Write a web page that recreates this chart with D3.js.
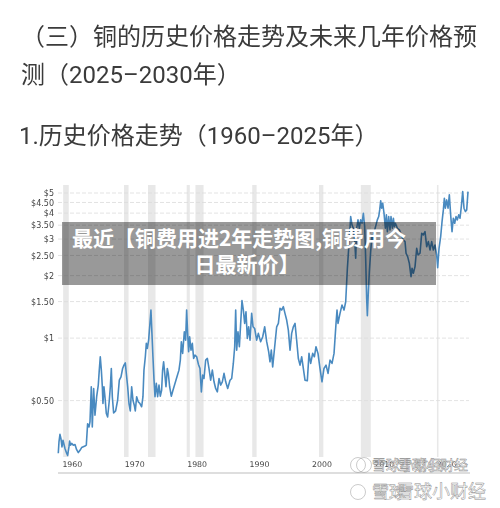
<!DOCTYPE html>
<html>
<head>
	<meta charset="utf-8">
	<title>铜的历史价格走势</title>
	<script src="https://d3js.org/d3.v7.min.js"></script>
	<style>
		body { margin: 0; background: #fff; }
		svg { display: block; }
	</style>
</head>
<body>
	<script type="text/javascript">
	var titleLines = ["（三）铜的历史价格走势及未来几年价格预", "测（2025–2030年）"];
	var subTitle = "1.历史价格走势（1960–2025年）";
	var overlayLines = ["最近【铜费用进2年走势图,铜费用今", "日最新价】"];

	var xTicks = [1960, 1970, 1980, 1990, 2000, 2010, 2020];
	var yTicks = [0.5, 1, 1.5, 2, 2.5, 3, 3.5, 4, 4.5, 5];
	var recessionStart = [1960.2, 1969.95, 1973.8, 1980.0, 1981.4, 1990.5, 2001.2, 2007.9, 2020.1];
	var recessionEnd = [1961.1, 1970.68, 1975.0, 1980.5, 1982.7, 1991.2, 2001.9, 2009.5, 2020.35];

	var years = [
		1959.42,1959.53,1959.69,1959.85,1960.01,1960.17,1960.33,1960.49,1960.76,1960.92,
		1961.13,1961.24,1961.40,1961.56,1961.83,1962.10,1962.36,1962.63,1962.90,1963.16,
		1963.70,1963.91,1964.12,1964.34,1964.50,1964.71,1964.87,1965.09,1965.30,1965.57,
		1965.83,1965.99,1966.15,1966.32,1966.48,1966.58,1966.74,1966.90,1967.12,1967.33,
		1967.60,1967.76,1967.92,1968.08,1968.29,1968.61,1968.93,1969.20,1969.47,1969.73,
		1969.95,1970.16,1970.32,1970.54,1970.75,1970.96,1971.18,1971.39,1971.60,1971.76,
		1971.98,1972.24,1972.51,1972.78,1972.99,1973.15,1973.37,1973.53,1973.69,1973.90,
		1974.11,1974.27,1974.43,1974.59,1974.75,1974.92,1975.13,1975.34,1975.56,1975.77,
		1975.98,1976.14,1976.30,1976.46,1976.68,1976.89,1977.05,1977.27,1977.53,1977.80,
		1978.12,1978.44,1978.76,1978.98,1979.14,1979.35,1979.62,1979.83,1979.99,1980.15,
		1980.31,1980.47,1980.69,1980.90,1981.11,1981.33,1981.60,1981.87,1982.13,1982.35,
		1982.56,1982.77,1983.04,1983.31,1983.57,1983.84,1984.11,1984.38,1984.64,1984.91,
		1985.18,1985.44,1985.71,1985.98,1986.25,1986.57,1986.94,1987.21,1987.47,1987.69,
		1987.85,1988.01,1988.22,1988.44,1988.65,1988.86,1989.08,1989.29,1989.50,1989.72,
		1989.93,1990.15,1990.41,1990.63,1990.89,1991.21,1991.48,1991.85,1992.18,1992.50,
		1992.82,1993.14,1993.35,1993.56,1993.78,1994.10,1994.42,1994.69,1994.95,1995.22,
		1995.49,1995.75,1996.02,1996.29,1996.56,1996.82,1997.09,1997.36,1997.62,1997.89,
		1998.16,1998.43,1998.69,1998.96,1999.33,1999.60,1999.87,2000.19,2000.46,2000.72,
		2001.04,2001.36,2001.68,2002.00,2002.33,2002.65,2002.97,2003.29,2003.61,2003.93,
		2004.09,2004.25,2004.57,2004.89,2005.21,2005.48,2005.75,2005.96,2006.17,2006.28,
		2006.49,2006.71,2006.92,2007.08,2007.24,2007.45,2007.67,2007.88,2008.10,2008.31,
		2008.52,2008.68,2008.84,2008.95,2009.11,2009.27,2009.48,2009.70,2009.91,2010.13,
		2010.34,2010.55,2010.77,2010.93,2011.09,2011.25,2011.41,2011.62,2011.84,2012.00,
		2012.16,2012.37,2012.58,2012.74,2012.96,2013.12,2013.28,2013.44,2013.76,2014.08,
		2014.40,2014.72,2014.99,2015.15,2015.41,2015.68,2015.95,2016.11,2016.32,2016.59,
		2016.86,2017.07,2017.39,2017.66,2017.92,2018.19,2018.46,2018.73,2018.99,2019.26,
		2019.53,2019.79,2020.06,2020.22,2020.44,2020.70,2020.92,2021.13,2021.29,2021.45,
		2021.66,2021.88,2022.09,2022.30,2022.52,2022.73,2022.95,2023.16,2023.37,2023.59,
		2023.80,2024.01,2024.23,2024.44,2024.66,2024.87,2025.08
	];

	var prices = [
		.279,.316,.344,.328,.299,.322,.308,.294,.279,.272,
		.299,.319,.305,.311,.305,.307,.290,.281,.288,.297,
		.302,.305,.387,.373,.395,.583,.373,.572,.425,.522,
		.594,.701,.813,.701,.583,.484,.583,.522,.433,.417,
		.502,.583,.714,.522,.436,.446,.502,.627,.651,.714,
		.741,.760,.676,.583,.484,.446,.583,.502,.475,.446,
		.522,.493,.484,.467,.522,.701,.813,.943,.892,.978,
		1.177,1.365,1.054,.813,.639,.522,.605,.522,.594,.525,
		.561,.701,.769,.688,.583,.714,.676,.583,.525,.561,
		.605,.651,.701,.784,.961,.844,1.073,.978,1.365,1.054,
		.859,1.015,.875,.943,.798,.828,.813,.749,.714,.551,
		.663,.639,.784,.798,.714,.627,.701,.616,.572,.551,
		.639,.594,.616,.676,.616,.572,.627,.639,.755,.909,
		1.365,.875,1.073,.909,1.177,1.515,1.365,1.177,1.340,.996,
		1.134,.978,1.316,1.134,1.113,.978,1.054,.961,1.015,1.134,
		.961,.859,.769,.875,.727,.909,1.134,1.177,1.391,1.365,
		1.417,1.316,1.222,1.093,.875,1.054,1.134,1.177,.978,.798,
		.741,.813,.714,.627,.623,.844,.755,.844,.813,.909,
		.844,.714,.616,.714,.741,.676,.784,.755,.844,1.177,
		1.365,1.177,1.316,1.443,1.365,1.497,2.169,2.708,3.382,3.85,
		3.51,3.382,2.971,2.424,3.382,3.71,3.382,3.71,3.575,3.995,
		3.445,2.424,1.553,1.281,1.673,2.09,2.61,3.141,2.971,3.32,
		3.51,3.71,3.85,4.145,4.58,4.225,4.465,3.995,3.382,3.923,
		3.259,3.85,3.32,3.85,3.382,3.78,3.445,3.575,3.382,3.32,
		3.141,2.971,2.916,2.563,2.468,2.291,1.976,2.169,2.052,2.21,
		2.708,2.515,2.563,3.197,3.141,3.259,2.757,2.916,2.658,2.916,
		2.658,2.81,2.515,2.184,2.708,3.083,3.642,4.145,4.72,4.225,
		4.63,4.225,4.9,3.923,3.259,3.78,3.575,3.85,3.71,3.923,
		3.78,4.30,5.08,4.225,4.07,4.145,5.08
	];

	var w = 500;
	var h = 508;
	var cjk = "'Noto Sans CJK SC', sans-serif";

	var svg = d3.select("body")
		.append("svg")
		.attr("width", w)
		.attr("height", h);

	// the reference is a soft, recompressed screenshot
	var defs = svg.append("defs");
	defs.append("filter").attr("id", "soft")
		.append("feGaussianBlur").attr("stdDeviation", 0.35);

	var x = d3.scaleLinear().domain([1960, 2020]).range([61.9, 436.3]);
	var y = d3.scaleLog().domain([0.5, 5]).range([400.6, 193]);

	var head = svg.append("g")
		.attr("font-family", "Roboto, " + cjk)
		.attr("font-size", "24px")
		.attr("fill", "#3a3a3a")
		.attr("filter", "url(#soft)");

	head.selectAll("text.title")
		.data(titleLines)
		.enter()
		.append("text")
		.attr("class", "title")
		.attr("x", 21)
		.attr("y", function(d, i) { return 45 + i * 38; })
		.text(function(d) { return d; });

	head.append("text")
		.attr("x", 19)
		.attr("y", 144)
		.text(subTitle);

	var chart = svg.append("g").attr("filter", "url(#soft)");

	chart.selectAll("rect.recession")
		.data(recessionStart)
		.enter()
		.append("rect")
		.attr("class", "recession")
		.attr("x", function(d) { return x(d); })
		.attr("y", 185)
		.attr("width", function(d, i) { return x(recessionEnd[i]) - x(d); })
		.attr("height", 272)
		.attr("fill", "#e8e8e8");

	var yAxis = d3.axisLeft(y)
		.tickValues(yTicks)
		.tickSize(0)
		.tickPadding(0)
		.tickFormat(function(d) { return d % 1 === 0 ? "$" + d : "$" + d.toFixed(2); });

	var gy = chart.append("g")
		.attr("transform", "translate(54,0)")
		.call(yAxis);
	gy.select(".domain").remove();
	gy.selectAll("text")
		.attr("font-family", "'DejaVu Sans', sans-serif")
		.attr("font-size", "8px")
		.attr("fill", "#444");

	chart.selectAll("line.grid")
		.data(yTicks)
		.enter()
		.append("line")
		.attr("class", "grid")
		.attr("x1", 58)
		.attr("x2", 469)
		.attr("y1", function(d) { return y(d); })
		.attr("y2", function(d) { return y(d); })
		.attr("stroke", "#dcdcdc")
		.attr("stroke-width", 0.8)
		.attr("stroke-dasharray", "4 2");

	var xAxis = d3.axisBottom(x)
		.tickValues(xTicks)
		.tickSize(0)
		.tickPadding(0)
		.tickFormat(d3.format("d"));

	var gx = chart.append("g")
		.attr("transform", "translate(0,461)")
		.call(xAxis);
	gx.select(".domain").remove();
	gx.selectAll("text")
		.attr("text-anchor", "start")
		.attr("font-family", "'DejaVu Sans', sans-serif")
		.attr("font-size", "7.8px")
		.attr("fill", "#444");

	chart.append("line")
		.attr("x1", 58)
		.attr("x2", 470)
		.attr("y1", 473)
		.attr("y2", 473)
		.attr("stroke", "#dedede")
		.attr("stroke-width", 2);

	var line = d3.line()
		.x(function(d) { return x(d); })
		.y(function(d, i) { return y(prices[i]); });

	chart.append("path")
		.datum(years)
		.attr("fill", "none")
		.attr("stroke", "#4a8ac0")
		.attr("stroke-width", 1.6)
		.attr("stroke-linejoin", "round")
		.attr("d", line);

	// grey banner over the chart
	svg.append("rect")
		.attr("x", 62)
		.attr("y", 222)
		.attr("width", 374)
		.attr("height", 63)
		.attr("fill", "#000")
		.attr("fill-opacity", 0.4);

	svg.selectAll("text.banner")
		.data(overlayLines)
		.enter()
		.append("text")
		.attr("class", "banner")
		.attr("x", function(d, i) { return i === 0 ? 239 : 247; })
		.attr("y", function(d, i) { return 246 + i * 26; })
		.attr("text-anchor", "middle")
		.attr("font-family", cjk)
		.attr("font-weight", 700)
		.attr("font-size", "21px")
		.attr("fill", "#fff")
		.text(function(d) { return d; });

	// ghosted double watermarks, bottom right
	var marks = svg.append("g")
		.attr("font-family", cjk)
		.attr("fill", "#fff")
		.attr("stroke", "#8a8a8a")
		.attr("stroke-width", 0.45);

	var markCircles = [[358, 465], [364, 465], [358, 492], [388, 492]];
	marks.selectAll("circle")
		.data(markCircles)
		.enter()
		.append("circle")
		.attr("cx", function(d) { return d[0]; })
		.attr("cy", function(d) { return d[1]; })
		.attr("r", 7.5)
		.attr("fill", "none");

	var markTexts = [["雪球小财经", 372, 470, 14], ["雪球小财经", 398, 470, 14], ["雪球", 372, 498, 17], ["雪球小财经", 396, 498, 18]];
	marks.selectAll("text")
		.data(markTexts)
		.enter()
		.append("text")
		.attr("x", function(d) { return d[1]; })
		.attr("y", function(d) { return d[2]; })
		.attr("font-size", function(d) { return d[3] + "px"; })
		.text(function(d) { return d[0]; });
	</script>
</body>
</html>
